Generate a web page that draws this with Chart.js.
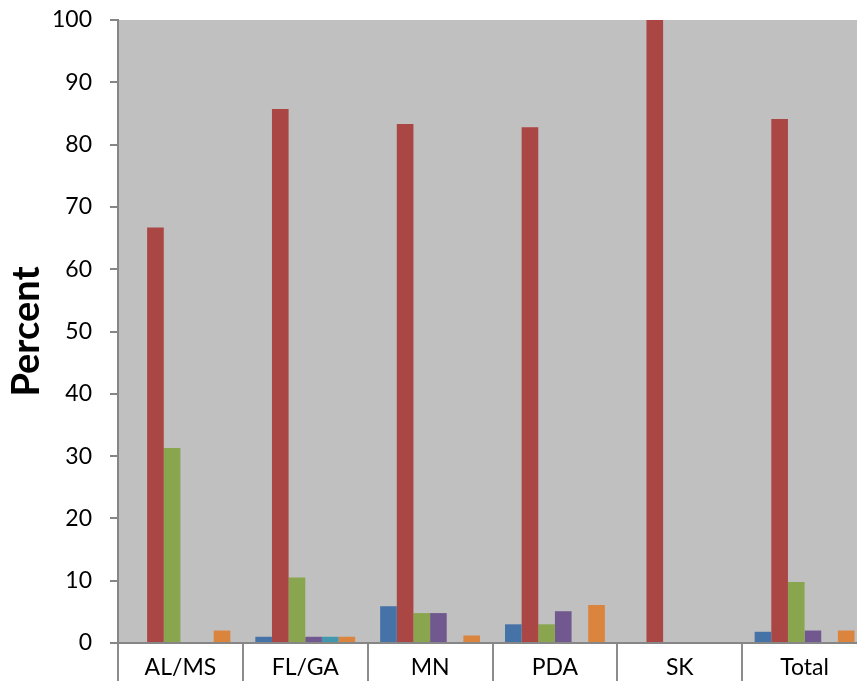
<!DOCTYPE html>
<html>
<head>
<meta charset="utf-8">
<script src="https://cdn.jsdelivr.net/npm/chart.js@4/dist/chart.umd.min.js"></script>
<style>
  html, body { margin: 0; padding: 0; background: #ffffff; overflow: hidden; }
  #wrap { width: 868px; height: 681px; }
</style>
</head>
<body>
<div id="wrap"><canvas id="barChart" width="868" height="681"></canvas></div>
<script>
    // categories and values (percent)
    var categories = ["AL/MS", "FL/GA", "MN", "PDA", "SK", "Total"];
    var series1 = [0, 1.0, 5.9, 3.0, 0, 1.8];
    var series2 = [66.7, 85.7, 83.3, 82.8, 100, 84.1];
    var series3 = [31.3, 10.5, 4.8, 3.0, 0, 9.8];
    var series4 = [0, 1.0, 4.8, 5.1, 0, 2.0];
    var series5 = [0, 1.0, 0, 0, 0, 0];
    var series6 = [2.0, 1.0, 1.2, 6.1, 0, 2.0];
    var yTicks = [0, 10, 20, 30, 40, 50, 60, 70, 80, 90, 100];

    var colors = ["#4572A7", "#AA4643", "#89A54E", "#71588F", "#4198AF", "#DB843D"];
    var allSeries = [series1, series2, series3, series4, series5, series6];

    var barData = {
        labels: categories,
        datasets: allSeries.map(function (values, i) {
            return {
                label: "Series " + (i + 1),
                backgroundColor: colors[i],
                borderWidth: 0,
                data: values
            };
        })
    };

    // gray plot area
    var plotBackground = {
        id: 'plotBackground',
        beforeDraw: function (chart) {
            var a = chart.chartArea;
            var ctx = chart.ctx;
            ctx.save();
            ctx.fillStyle = '#C0C0C0';
            ctx.fillRect(a.left, a.top, a.right - a.left, a.bottom - a.top);
            ctx.restore();
        }
    };

    var barOptions = {
        responsive: false,
        animation: false,
        layout: {
            padding: { top: 20, right: 1, bottom: 0, left: 0 }
        },
        plugins: {
            legend: { display: false },
            tooltip: { enabled: false }
        },
        datasets: {
            bar: { categoryPercentage: 0.8, barPercentage: 1.0 }
        },
        scales: {
            x: {
                grid: {
                    offset: true,
                    drawOnChartArea: false,
                    drawTicks: true,
                    tickLength: 38,
                    color: '#8c8c8c',
                    lineWidth: 2
                },
                border: { display: true, color: '#868686', width: 2 },
                ticks: {
                    color: '#000000',
                    padding: -27,
                    font: { family: 'Lato', size: 23 },
                    maxRotation: 0
                },
                afterFit: function (scale) {
                    scale.height = 38;
                    scale.paddingLeft = 0;
                    scale.paddingRight = 0;
                }
            },
            y: {
                min: 0,
                max: 100,
                afterBuildTicks: function (scale) {
                    scale.ticks = yTicks.map(function (v) { return { value: v }; });
                },
                grid: {
                    drawOnChartArea: false,
                    drawTicks: true,
                    tickLength: 8,
                    color: '#868686',
                    lineWidth: 2
                },
                border: { display: true, color: '#868686', width: 2 },
                ticks: {
                    color: '#000000',
                    padding: 18,
                    font: { family: 'Lato', size: 23 }
                },
                title: {
                    display: true,
                    text: 'Percent',
                    color: '#000000',
                    padding: { top: 4, bottom: 0 },
                    font: { family: 'Lato', size: 38, weight: 'bold' }
                },
                afterFit: function (scale) {
                    scale.width = 118;
                    scale.paddingTop = 0;
                    scale.paddingBottom = 0;
                }
            }
        }
    };

    var ctx = document.getElementById("barChart").getContext("2d");
    new Chart(ctx, {type: 'bar', data: barData, options: barOptions, plugins: [plotBackground]});
</script>
</body>
</html>
